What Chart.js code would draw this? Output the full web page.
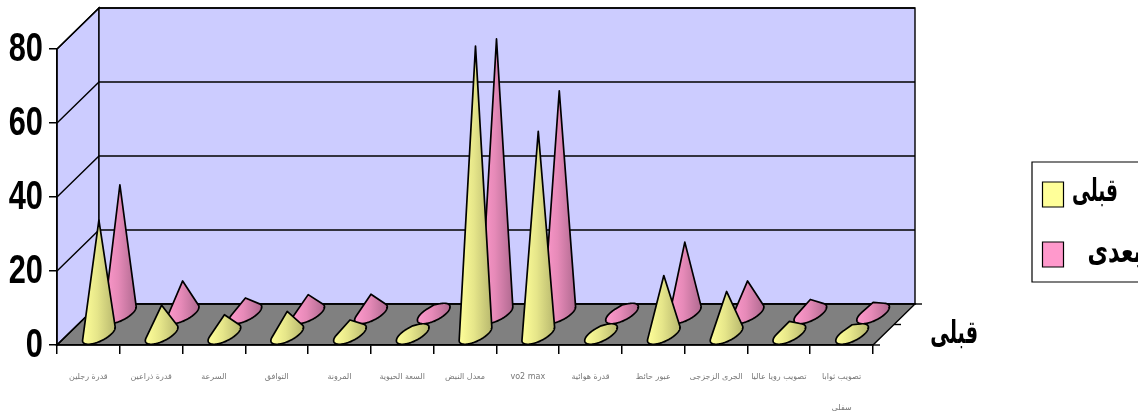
<!DOCTYPE html>
<html lang="ar">
<head>
<meta charset="utf-8">
<style>html,body{margin:0;padding:0;background:#fff}canvas{display:block}</style>
<script src="https://cdn.jsdelivr.net/npm/chart.js@4"></script>
</head>
<body>
<canvas id="c" width="1138" height="414"></canvas>
<script>
const categories = ["قدرة رجلين","قدرة ذراعين","السرعة","التوافق","المرونة","السعة الحيوية","معدل النبض","vo2 max","قدرة هوائية","عبور حائط","الجرى الزجزجى","تصويب رويا عاليا",["تصويب ثوابا","سفلى"]];
const before = [31,8,5.4,6.3,4,2.4,78,55,2.4,16,11.7,3.6,2.7];
const after = [35,9,4.4,5.3,5.4,2.5,74.4,60.4,2.5,19.5,9,4,3.2];
const yTicks = [0,20,40,60,80];
const seriesNames = ["قبلى","بعدى"];
const seriesAxisTitle = "قبلى";

const DEPTH = {x:42,y:-41};
const CONE_A = 12.5;
const SHADES = [["#FFFF99","#E6E68A","#B8B86E"],["#FF99CC","#E68AB8","#B06A90"]];

function hull(pts){
  const p = pts.slice().sort((a,b)=>a.x-b.x||a.y-b.y);
  const cross=(o,a,b)=>(a.x-o.x)*(b.y-o.y)-(a.y-o.y)*(b.x-o.x);
  const lo=[],up=[];
  for(const q of p){while(lo.length>1&&cross(lo[lo.length-2],lo[lo.length-1],q)<=0)lo.pop();lo.push(q);}
  for(let i=p.length-1;i>=0;i--){const q=p[i];while(up.length>1&&cross(up[up.length-2],up[up.length-1],q)<=0)up.pop();up.push(q);}
  lo.pop();up.pop();
  return lo.concat(up);
}

class ConeController extends Chart.BarController {
  draw(){
    const ctx=this.chart.ctx, meta=this.getMeta(), n=this.chart.data.datasets.length;
    const row=(this.index+0.5)/n, dx=DEPTH.x*row, dy=DEPTH.y*row;
    const bx=DEPTH.x/4, by=-DEPTH.y/4;
    ctx.save();
    meta.data.forEach(el=>{
      const cx=el.x+dx, cy=el.base+dy, ay=el.y+dy;
      const pts=[{x:cx,y:ay}];
      for(let i=0;i<180;i++){
        const t=i*Math.PI/90;
        pts.push({x:cx+CONE_A*Math.cos(t)+bx*Math.sin(t),y:cy-by*Math.sin(t)});
      }
      const h=hull(pts);
      const xs=h.map(q=>q.x), x0=Math.min(...xs), x1=Math.max(...xs);
      const g=ctx.createLinearGradient(x0,0,x1,0), s=SHADES[this.index];
      g.addColorStop(0,s[0]);g.addColorStop(0.45,s[1]);g.addColorStop(1,s[2]);
      ctx.beginPath();
      h.forEach((q,i)=>i?ctx.lineTo(q.x,q.y):ctx.moveTo(q.x,q.y));
      ctx.closePath();
      ctx.fillStyle=g;ctx.fill();
      ctx.lineWidth=1.7;ctx.lineJoin='round';ctx.strokeStyle='#000';ctx.stroke();
    });
    ctx.restore();
  }
}
ConeController.id='cone';
ConeController.defaults=Chart.BarController.defaults;
ConeController.overrides=Chart.BarController.overrides;
Chart.register(ConeController);

function squeezedText(ctx,text,xRight,y,sx){
  ctx.save();
  ctx.translate(xRight,y);ctx.scale(sx,1);
  ctx.textAlign='right';
  ctx.fillText(text,0,0);
  ctx.restore();
}

const walls={
  id:'walls',
  beforeDraw(chart){
    const {ctx,chartArea:a,scales:{y}}=chart, d=DEPTH;
    ctx.save();
    const poly=(pts,fill)=>{ctx.beginPath();pts.forEach((p,i)=>i?ctx.lineTo(p[0],p[1]):ctx.moveTo(p[0],p[1]));ctx.closePath();ctx.fillStyle=fill;ctx.fill();ctx.stroke();};
    ctx.strokeStyle='#000';ctx.lineWidth=1.4;
    poly([[a.left,a.top],[a.left+d.x,a.top+d.y],[a.left+d.x,a.bottom+d.y],[a.left,a.bottom]],'#CCCCFF');
    poly([[a.left+d.x,a.top+d.y],[a.right+d.x,a.top+d.y],[a.right+d.x,a.bottom+d.y],[a.left+d.x,a.bottom+d.y]],'#CCCCFF');
    poly([[a.left,a.bottom],[a.left+d.x,a.bottom+d.y],[a.right+d.x,a.bottom+d.y],[a.right,a.bottom]],'#808080');
    yTicks.forEach(v=>{
      const py=y.getPixelForValue(v);
      ctx.beginPath();ctx.moveTo(a.left,py);ctx.lineTo(a.left+d.x,py+d.y);ctx.lineTo(a.right+d.x,py+d.y);ctx.stroke();
    });
    // series (depth) axis ticks
    [0,0.5,1].forEach(f=>{
      const px=a.right+d.x*f,py=a.bottom+d.y*f;
      ctx.beginPath();ctx.moveTo(px,py);ctx.lineTo(px+7,py);ctx.stroke();
    });
    ctx.restore();
  },
  afterDraw(chart){
    const ctx=chart.ctx, ds=chart.data.datasets, ys=chart.scales.y;
    ctx.save();
    ctx.fillStyle='#000';ctx.textBaseline='middle';
    // value-axis labels, condensed bold
    ctx.font='bold 40px "Liberation Sans"';
    ys.ticks.forEach(t=>squeezedText(ctx,String(t.value),43,ys.getPixelForValue(t.value)+1,0.77));
    // series axis title
    ctx.font='bold 32px "DejaVu Sans"';
    squeezedText(ctx,seriesAxisTitle,978,335,0.6);
    // legend
    ctx.strokeStyle='#000';ctx.lineWidth=1.2;
    ctx.fillStyle='#fff';
    ctx.beginPath();ctx.rect(1032,162,120,120);ctx.fill();ctx.stroke();
    const rows=[{sy:182,tx:1118,ty:193,sx:0.58},{sy:242,tx:1142,ty:254,sx:0.7}];
    ds.forEach((s,i)=>{
      const r=rows[i];
      ctx.fillStyle=SHADES[i][0];
      ctx.beginPath();ctx.rect(1042.5,r.sy,21,25);ctx.fill();ctx.stroke();
      ctx.fillStyle='#000';
      ctx.font='bold 32px "DejaVu Sans"';
      squeezedText(ctx,s.label,r.tx,r.ty,r.sx);
    });
    ctx.restore();
  }
};

new Chart(document.getElementById('c'),{
  type:'cone',
  data:{labels:categories,datasets:[
    {label:seriesNames[0],data:before,backgroundColor:SHADES[0][0],grouped:false,clip:false},
    {label:seriesNames[1],data:after,backgroundColor:SHADES[1][0],grouped:false,clip:false}
  ]},
  plugins:[walls],
  options:{
    responsive:false,animation:false,
    layout:{padding:{left:0,right:265,top:49,bottom:0}},
    plugins:{legend:{display:false},tooltip:{enabled:false},title:{display:false}},
    scales:{
      x:{type:'category',offset:true,
        afterFit(s){s.height=69;},
        grid:{offset:true,drawOnChartArea:false,color:'#000',tickLength:9,lineWidth:1.5},
        border:{display:true,color:'#000',width:1.5},
        ticks:{autoSkip:false,maxRotation:0,minRotation:0,padding:7,color:'#777',
          font:{family:'"DejaVu Sans"',size:8,lineHeight:'31px'}}},
      y:{type:'linear',min:0,max:80,
        afterFit(s){s.width=57;},
        afterBuildTicks(s){s.ticks=yTicks.map(v=>({value:v}));},
        grid:{drawOnChartArea:false,color:'#000',tickLength:8,lineWidth:1.5},
        border:{display:true,color:'#000',width:1.5},
        ticks:{display:false}}
    }
  }
});
</script>
</body>
</html>
